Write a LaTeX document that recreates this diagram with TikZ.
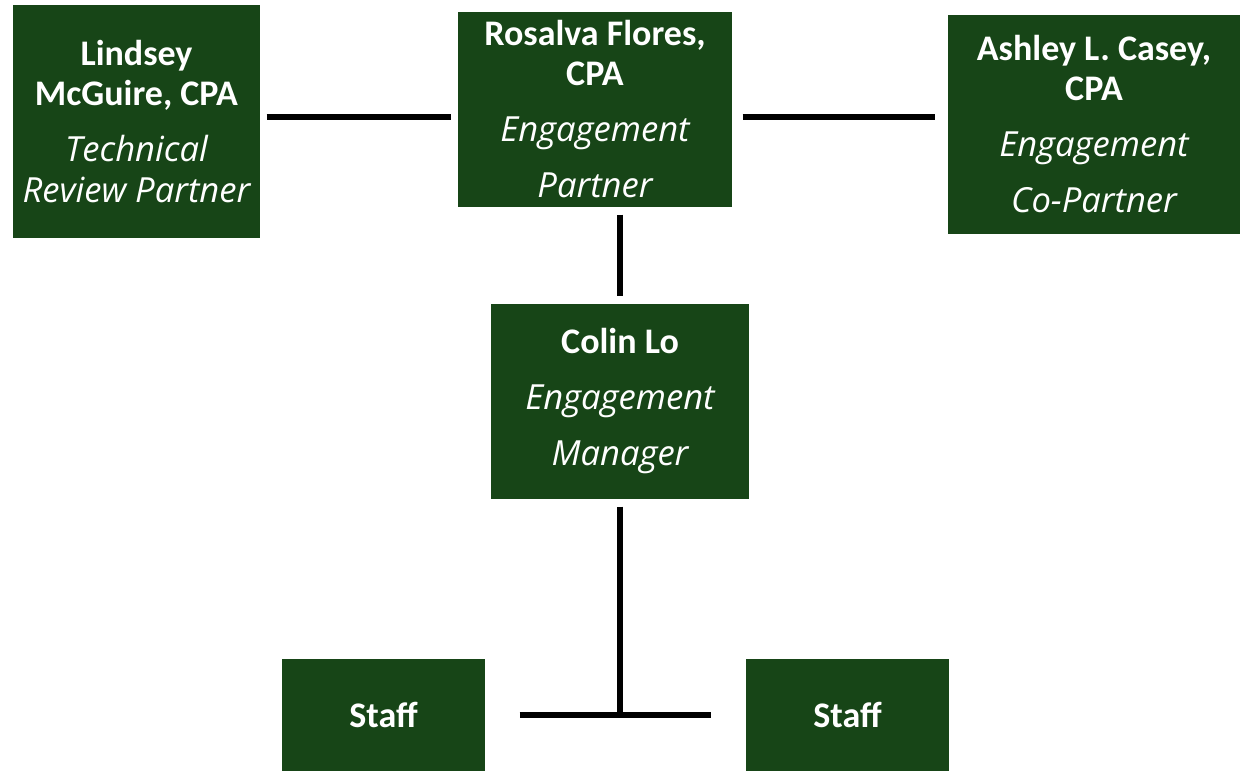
\documentclass[tikz,border=0pt]{standalone}
\usepackage{fontspec}
\setmainfont{Carlito}
\newfontfamily\rolefont{Open Sans}
\usetikzlibrary{positioning}

\definecolor{boxgreen}{RGB}{23,69,23}
\newcommand{\who}[1]{\textbf{#1}}
\newcommand{\role}[1]{{\rolefont\itshape\fontsize{17.3}{20}\selectfont #1}}

\begin{document}
\begin{tikzpicture}[x=0.5pt, y=-0.5pt, line width=2.5pt,
    person/.style={fill=boxgreen, text=white, inner sep=0pt, align=center,
        font=\fontsize{18}{20}\selectfont},
    link/.style={draw=black, line width=2.7pt}]

\useasboundingbox (0,0) rectangle (1241,772);

\node (lindsey) at (136.5, 121.5) [person, minimum width=123.5pt, minimum height=116.5pt]
    {\who{Lindsey}\\\who{McGuire, CPA}\\[8pt]\role{Technical}\\[0.5pt]\role{Review Partner}};
\node (rosalva) at (595, 109.5)   [person, minimum width=137pt, minimum height=97.5pt]
    {\who{Rosalva Flores,}\\\who{CPA}\\[8pt]\role{Engagement}\\[8pt]\role{Partner}};
\node (ashley) at (1094, 124.5)   [person, minimum width=146pt, minimum height=109.5pt]
    {\who{Ashley L. Casey,}\\\who{CPA}\\[8pt]\role{Engagement}\\[8pt]\role{Co-Partner}};

\node (colin) at (620, 401.5)     [person, minimum width=129pt, minimum height=97.5pt]
    {\who{Colin Lo}\\[8pt]\role{Engagement}\\[8pt]\role{Manager}};

\node (staff1) at (383.5, 715)    [person, minimum width=101.5pt, minimum height=56pt] {\who{Staff}};
\node (staff2) at (847.5, 715)    [person, minimum width=101.5pt, minimum height=56pt] {\who{Staff}};

\coordinate (toprow) at (0, 117);
\coordinate (fork) at (colin.south |- staff1.east);

\path[link] (lindsey.east |- toprow) edge[shorten <=2pt, shorten >=2.5pt] (rosalva.west |- toprow);
\path[link] (rosalva.east |- toprow) edge[shorten <=4pt, shorten >=5.5pt] (ashley.west |- toprow);
\path[link] (colin.north |- rosalva.south) edge[shorten <=2.5pt, shorten >=3pt] (colin.north);
\path[link] (colin.south) edge[shorten <=2.5pt] (fork);
\path[link] (staff1.east) edge[shorten <=16pt, shorten >=16.5pt] (staff2.west);

\end{tikzpicture}
\end{document}
